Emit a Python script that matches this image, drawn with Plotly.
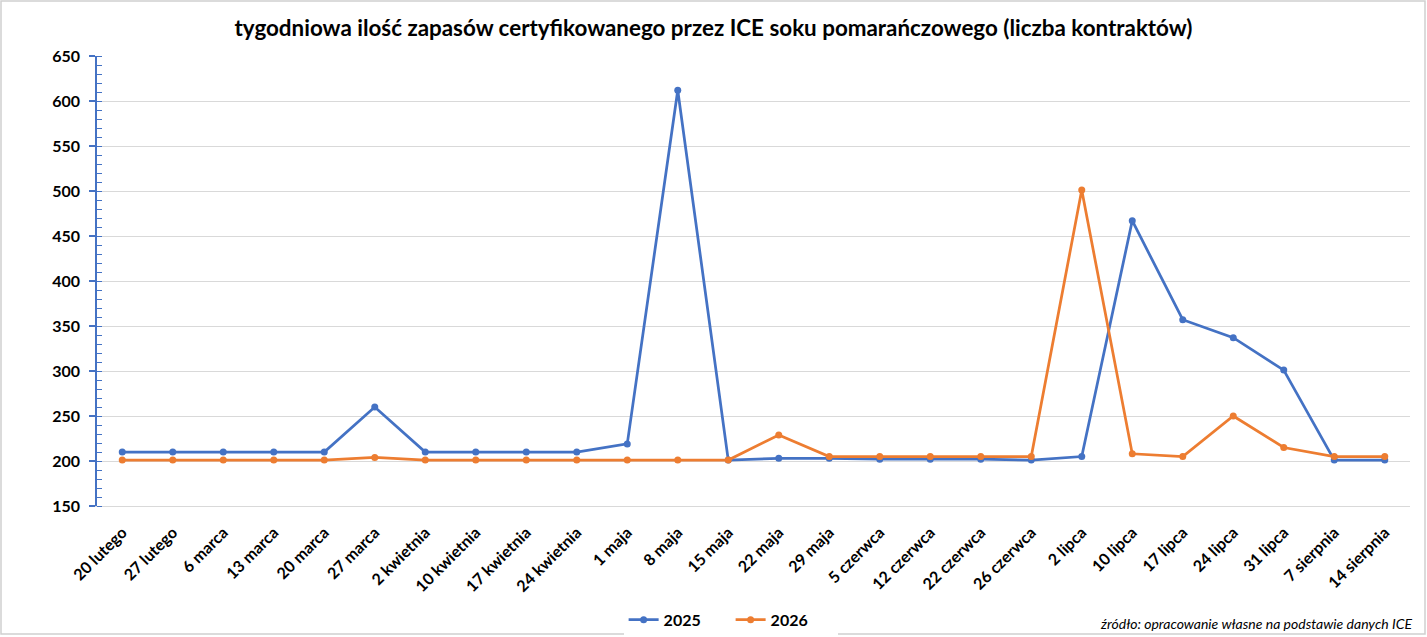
import plotly.graph_objects as go

categories = ["20 lutego", "27 lutego", "6 marca", "13 marca", "20 marca", "27 marca",
              "2 kwietnia", "10 kwietnia", "17 kwietnia", "24 kwietnia", "1 maja", "8 maja",
              "15 maja", "22 maja", "29 maja", "5 czerwca", "12 czerwca", "22 czerwca",
              "26 czerwca", "2 lipca", "10 lipca", "17 lipca", "24 lipca", "31 lipca",
              "7 sierpnia", "14 sierpnia"]
values_2025 = [210, 210, 210, 210, 210, 260, 210, 210, 210, 210, 219, 612, 201, 203, 203,
               202, 202, 202, 201, 205, 467, 357, 337, 301, 201, 201]
values_2026 = [201, 201, 201, 201, 201, 204, 201, 201, 201, 201, 201, 201, 201, 229, 205,
               205, 205, 205, 205, 501, 208, 205, 250, 215, 205, 205]
y_ticks = [150, 200, 250, 300, 350, 400, 450, 500, 550, 600, 650]

BLUE = "#4472C4"
ORANGE = "#ED7D31"
FONT = "Lato"

fig = go.Figure()
fig.add_trace(go.Scatter(x=categories, y=values_2025, name="2025", mode="lines+markers",
                         line=dict(color=BLUE, width=2.75), marker=dict(size=7, color=BLUE)))
fig.add_trace(go.Scatter(x=categories, y=values_2026, name="2026", mode="lines+markers",
                         line=dict(color=ORANGE, width=2.75), marker=dict(size=7, color=ORANGE)))

fig.update_layout(
    width=1427, height=637,
    margin=dict(l=97, r=17, t=56, b=131, autoexpand=False),
    paper_bgcolor="white", plot_bgcolor="white",
    font=dict(family=FONT, color="black"),
    title=dict(text="<b>tygodniowa ilość zapasów certyfikowanego przez ICE soku pomarańczowego (liczba kontraktów)</b>",
               x=0.5, xanchor="center", xref="container", yref="container", y=1 - 28 / 637, yanchor="middle",
               font=dict(family=FONT, size=22.4, color="black")),
    showlegend=True,
    legend=dict(orientation="h", xref="container", x=0.512, xanchor="center", y=-0.215, yanchor="top",
                font=dict(family=FONT, size=16, color="black", weight="bold"),
                entrywidth=62, traceorder="normal"),
    xaxis=dict(type="category", range=[-0.5, 25.5], tickangle=-45, automargin=False,
               tickfont=dict(family=FONT, size=16, color="black", weight="bold"),
               showgrid=False, showline=True, linecolor="#d9d9d9", linewidth=1,
               ticks="", ticklabelstandoff=10, fixedrange=True),
    yaxis=dict(range=[150, 650], tickvals=y_ticks, automargin=False,
               tickfont=dict(family=FONT, size=16, color="black", weight="bold"),
               showgrid=True, gridcolor="#d9d9d9", gridwidth=1,
               showline=True, linecolor=BLUE, linewidth=1.5,
               ticks="outside", ticklen=6, tickcolor=BLUE, tickwidth=1.5,
               minor=dict(dtick=10, ticks="inside", ticklen=5, tickcolor=BLUE, tickwidth=1, showgrid=False),
               zeroline=False, ticklabelstandoff=6, fixedrange=True),
)

fig.add_annotation(text="<i>źródło: opracowanie własne na podstawie danych ICE</i>",
                   xref="paper", yref="paper", x=1.003, y=-0.238, xanchor="right", yanchor="top",
                   showarrow=False, font=dict(family=FONT, size=14, color="black"))

fig.add_shape(type="rect", xref="paper", yref="paper", x0=-96/1313, x1=1 + 15/1313,
              y0=-128/450, y1=1 + 55/450, line=dict(color="#d0d0d0", width=1.5))

fig.update_traces(hoverinfo="skip")
fig.write_html("out.html", config={"displayModeBar": False},
               post_script="document.body.style.margin='0';document.body.style.overflow='hidden';")
